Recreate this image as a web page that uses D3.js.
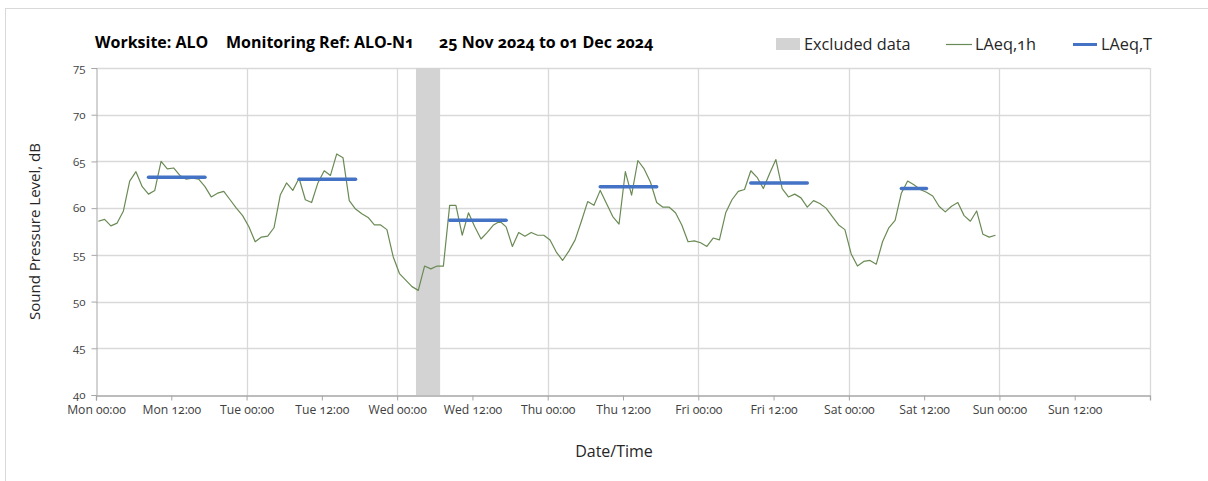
<!DOCTYPE html>
<html>
<head>
<meta charset="utf-8">
<script src="https://cdn.jsdelivr.net/npm/d3@7"></script>
<style>
  html, body { margin: 0; padding: 0; background: #fff; }
  svg { display: block; font-family: "Open Sans", Lato, sans-serif; font-feature-settings: "onum" 1; }
</style>
</head>
<body>
<svg id="chart" width="1208" height="481"></svg>
<script>
// ---- data ----
const titleParts = ["Worksite: ALO", "Monitoring Ref: ALO-N1", "25 Nov 2024 to 01 Dec 2024"];
const tickLabels = ["Mon 00:00","Mon 12:00","Tue 00:00","Tue 12:00","Wed 00:00","Wed 12:00","Thu 00:00",
  "Thu 12:00","Fri 00:00","Fri 12:00","Sat 00:00","Sat 12:00","Sun 00:00","Sun 12:00"];
const yTicks = [40, 45, 50, 55, 60, 65, 70, 75];
// hourly LAeq,1h from Mon 00:00 (hours since start = index)
const laeq1h = [
  58.6,58.8,58.1,58.4,59.7,62.9,63.9,62.3,61.5,61.9,65.0,64.2,64.3,63.5,63.1,63.2,63.1,62.3,61.2,61.6,61.8,60.9,60.0,59.2,
  58.0,56.4,56.9,57.0,57.9,61.4,62.7,61.9,63.2,60.9,60.6,62.7,64.0,63.5,65.8,65.4,60.8,59.9,59.4,59.0,58.2,58.2,57.7,54.8,
  53.0,52.3,51.6,51.2,53.8,53.5,53.8,53.8,60.3,60.3,57.1,59.5,58.0,56.7,57.4,58.2,58.6,58.0,55.9,57.4,57.0,57.4,57.1,57.1,
  56.6,55.3,54.4,55.4,56.6,58.6,60.7,60.3,61.9,60.5,59.1,58.3,63.9,61.4,65.1,64.2,62.8,60.6,60.1,60.1,59.5,58.2,56.4,56.5,
  56.3,55.9,56.8,56.6,59.5,60.9,61.8,62.0,64.0,63.3,62.1,63.7,65.2,62.1,61.2,61.5,61.1,60.1,60.8,60.5,60.0,59.1,58.2,57.7,
  55.1,53.8,54.3,54.4,54.0,56.4,57.9,58.7,61.6,62.9,62.5,62.0,61.7,61.3,60.2,59.6,60.2,60.6,59.2,58.6,59.7,57.2,56.9,57.1
];
// LAeq,T daytime periods: start hour, end hour, level
const periodStart = [8, 32, 56, 80, 104, 128];
const periodEnd   = [17, 41, 65, 89, 113, 132];
const periodLevel = [63.3, 63.1, 58.7, 62.3, 62.7, 62.1];
// excluded data window (hours)
const excludedStart = [51.0];
const excludedEnd   = [54.85];
const sampleOffset = 0.37; // hourly samples plotted slightly after the hour

// ---- layout ----
const svg = d3.select("#chart");
const W = 1208, H = 481;
const plot = { left: 96, right: 1150, top: 68, bottom: 395 };

const x = d3.scaleLinear().domain([0, 168]).range([plot.left, plot.right]);
const y = d3.scaleLinear().domain([40, 75]).range([plot.bottom, plot.top]);

// outer frame
svg.append("rect").attr("x", 5.5).attr("y", 8.5).attr("width", W + 10).attr("height", H)
  .attr("fill", "none").attr("stroke", "#d9d9d9");

// horizontal gridlines
svg.append("g").selectAll("line").data(yTicks.filter(v => v > 40)).join("line")
  .attr("x1", plot.left).attr("x2", plot.right)
  .attr("y1", d => Math.round(y(d)) + 0.5).attr("y2", d => Math.round(y(d)) + 0.5)
  .attr("stroke", "#d9d9d9").attr("stroke-width", 1.3);

// vertical gridlines every 24h
svg.append("g").selectAll("line").data(d3.range(24, 169, 24)).join("line")
  .attr("x1", d => Math.round(x(d)) + 0.5).attr("x2", d => Math.round(x(d)) + 0.5)
  .attr("y1", plot.top).attr("y2", plot.bottom)
  .attr("stroke", "#d9d9d9").attr("stroke-width", 1.3);

// excluded band
svg.append("g").selectAll("rect").data(excludedStart.map((s, i) => [s, excludedEnd[i]])).join("rect")
  .attr("x", d => x(d[0])).attr("width", d => x(d[1]) - x(d[0]))
  .attr("y", plot.top).attr("height", plot.bottom - plot.top)
  .attr("fill", "#d3d3d3");

// axes
const yAxis = d3.axisLeft(y).tickValues(yTicks).tickSize(5).tickPadding(6);
const gy = svg.append("g").attr("transform", `translate(${plot.left + 0.5},0)`).call(yAxis);
gy.select(".domain").attr("stroke", "#a6a6a6");
gy.selectAll(".tick line").attr("stroke", "#a6a6a6");
gy.selectAll(".tick text").attr("fill", "#404040").style("font-size", "11.5px")
  .style("font-family", "'Open Sans', sans-serif");

const xAxis = d3.axisBottom(x).tickValues(d3.range(0, 168, 12))
  .tickFormat((d, i) => tickLabels[i]).tickSize(5).tickPadding(5);
const gx = svg.append("g").attr("transform", `translate(0,${plot.bottom + 0.5})`).call(xAxis);
gx.select(".domain").attr("stroke", "#a6a6a6").attr("stroke-width", 1.3);
gx.selectAll(".tick line").attr("stroke", "#a6a6a6");
gx.selectAll(".tick text").attr("fill", "#404040").style("font-size", "12.2px")
  .style("font-family", "'Open Sans', sans-serif");

// LAeq,1h line
const line = d3.line().x((d, i) => x(i + sampleOffset)).y(d => y(d));
svg.append("path").datum(laeq1h).attr("d", line)
  .attr("fill", "none").attr("stroke", "#6a8a55").attr("stroke-width", 1.2)
  .attr("stroke-linejoin", "round");

// LAeq,T segments
svg.append("g").selectAll("line").data(periodLevel.map((v, i) => ({ s: periodStart[i], e: periodEnd[i], v }))).join("line")
  .attr("x1", d => x(d.s + sampleOffset)).attr("x2", d => x(d.e + sampleOffset))
  .attr("y1", d => y(d.v)).attr("y2", d => y(d.v))
  .attr("stroke", "#4472c4").attr("stroke-width", 3.5).attr("stroke-linecap", "round");

// title
const titleX = [95, 226, 439];
svg.append("g").selectAll("text").data(titleParts).join("text")
  .attr("x", (d, i) => titleX[i]).attr("y", 48)
  .attr("font-size", 16).attr("font-weight", "bold").attr("fill", "#000")
  .text(d => d);

// legend
const lg = svg.append("g").style("font-size", "16.3px").attr("fill", "#262626");
lg.append("rect").attr("x", 776).attr("y", 38).attr("width", 24).attr("height", 12).attr("fill", "#d3d3d3");
lg.append("text").attr("x", 804).attr("y", 50).text("Excluded data");
lg.append("line").attr("x1", 946).attr("x2", 972).attr("y1", 44.5).attr("y2", 44.5)
  .attr("stroke", "#6a8a55").attr("stroke-width", 1.2);
lg.append("text").attr("x", 975).attr("y", 50).text("LAeq,1h");
lg.append("line").attr("x1", 1073).attr("x2", 1097).attr("y1", 44.5).attr("y2", 44.5)
  .attr("stroke", "#4472c4").attr("stroke-width", 3);
lg.append("text").attr("x", 1101).attr("y", 50).text("LAeq,T");

// axis titles
svg.append("text").attr("transform", `translate(40,${(plot.top + plot.bottom) / 2}) rotate(-90)`)
  .attr("text-anchor", "middle").attr("font-size", 15).attr("fill", "#262626")
  .text("Sound Pressure Level, dB");
svg.append("text").attr("x", 614).attr("y", 457).attr("text-anchor", "middle")
  .attr("font-size", 16).attr("fill", "#262626").text("Date/Time");
</script>
</body>
</html>
